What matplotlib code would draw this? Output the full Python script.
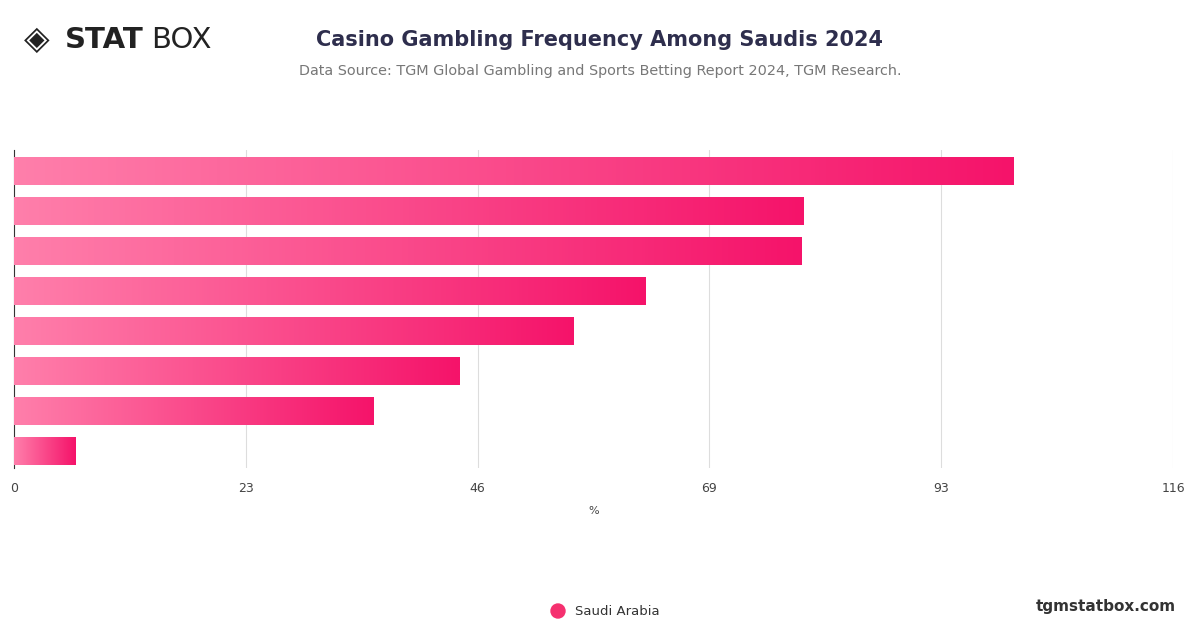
import matplotlib
matplotlib.use("Agg")
import matplotlib.pyplot as plt
import numpy as np
from matplotlib.colors import LinearSegmentedColormap
from matplotlib.patches import Rectangle, Circle

values = [100, 79, 78.8, 63.2, 56, 44.6, 36, 6.2]
ticks = [0, 23.2, 46.4, 69.6, 92.8, 116]
tick_labels = ["0", "23", "46", "69", "93", "116"]
series = "Saudi Arabia"

fig = plt.figure(figsize=(12, 6.28), dpi=100)
ax = fig.add_axes([14/1200, 1-468/628, (1173-14)/1200, (468-150)/628])
cmap = LinearSegmentedColormap.from_list("g", ["#ff7fab", "#f5136a"])
grad = np.linspace(0, 1, 256).reshape(1, -1)
n = len(values)
for i, v in enumerate(values):
    im = ax.imshow(grad, cmap=cmap, aspect="auto", extent=[0, v, i + 0.35, i - 0.35], zorder=3)
    r = Rectangle((0, i - 0.35), v, 0.7, transform=ax.transData, visible=False)
    ax.add_patch(r)
    im.set_clip_path(r)
ax.set_xlim(0, 116)
ax.set_ylim(7.425, -0.525)
ax.set_xticks(ticks)
ax.set_xticklabels(tick_labels, fontsize=9, color="#444")
ax.set_yticks([])
ax.grid(axis="x", color="#dddddd", lw=0.8, zorder=0)
for s in ["top", "right", "bottom"]:
    ax.spines[s].set_visible(False)
ax.spines["left"].set_color("#333")
ax.tick_params(axis="x", length=0, pad=10)
ax.set_xlabel("%", fontsize=8, color="#444", labelpad=8)

fig.text(0.5, 0.937, "Casino Gambling Frequency Among Saudis 2024", ha="center", va="center",
         fontsize=15, fontweight="bold", color="#2e2e4d")
fig.text(0.5, 0.887, "Data Source: TGM Global Gambling and Sports Betting Report 2024, TGM Research.",
         ha="center", va="center", fontsize=10.4, color="#777")
fig.text(0.020, 0.937, "◈", ha="left", va="center", fontsize=24, color="#222")
fig.text(0.054, 0.937, "STAT", ha="left", va="center", fontsize=21, fontweight="bold", color="#222")
fig.text(0.126, 0.937, "BOX", ha="left", va="center", fontsize=21, color="#222")
fig.text(0.98, 0.034, "tgmstatbox.com", ha="right", va="center", fontsize=11, fontweight="bold", color="#333")
fig.patches.append(Circle((558, 628-611), 7, color="#f5306f", transform=None, figure=fig))
fig.text(0.479, 0.027, series, ha="left", va="center", fontsize=9.5, color="#333")
fig.savefig("out.png", dpi=100)
